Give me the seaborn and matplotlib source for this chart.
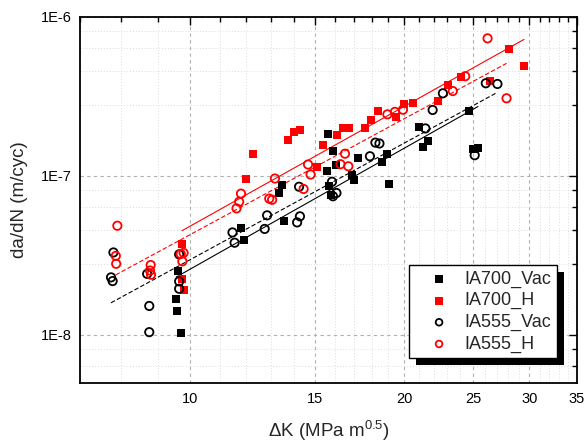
import numpy as np
import pandas as pd
import matplotlib
matplotlib.use("Agg")
import matplotlib.pyplot as plt
import matplotlib.ticker as mticker
from matplotlib.patches import Rectangle
import seaborn as sns

# crack growth rate vs stress intensity range
ia700_vac_dk = [9.60, 9.56, 9.58, 9.70, 11.79, 11.91, 13.45, 13.35, 13.55, 15.64, 15.87, 15.56, 16.04, 15.70,
                15.80, 16.87, 17.02, 17.24, 18.63, 18.89, 19.01, 21.00, 21.61, 21.28, 24.65, 24.97, 25.40]
ia700_vac_dadn = [2.52e-8, 1.67e-8, 1.42e-8, 1.03e-8, 4.68e-8, 3.96e-8, 8.82e-8, 7.81e-8, 5.22e-8, 1.83e-7,
                  1.43e-7, 1.08e-7, 1.18e-7, 8.61e-8, 7.56e-8, 1.01e-7, 9.49e-8, 1.29e-7, 1.22e-7, 1.38e-7,
                  8.93e-8, 2.03e-7, 1.67e-7, 1.51e-7, 2.58e-7, 1.47e-7, 1.50e-7]

ia700_h_dk = [9.74, 9.74, 9.79, 11.98, 12.24, 13.74, 14.02, 14.25, 15.07, 15.39, 16.07, 16.42, 16.73, 17.59,
              17.96, 18.40, 19.47, 19.98, 20.57, 22.28, 23.06, 24.04, 26.42, 28.05, 29.48]
ia700_h_dadn = [3.71e-8, 2.25e-8, 1.92e-8, 9.53e-8, 1.37e-7, 1.68e-7, 1.89e-7, 1.94e-7, 1.13e-7, 1.56e-7,
                1.81e-7, 1.99e-7, 1.99e-7, 2.01e-7, 2.25e-7, 2.56e-7, 2.36e-7, 2.85e-7, 2.88e-7, 2.98e-7,
                3.71e-7, 4.20e-7, 3.96e-7, 6.27e-7, 4.91e-7]

ia555_vac_dk = [7.80, 7.74, 7.78, 8.70, 8.76, 8.76, 9.65, 9.65, 9.65, 11.47, 11.55, 12.83, 12.73, 14.23,
                14.27, 14.14, 15.83, 16.06, 15.88, 17.90, 18.22, 18.46, 21.42, 21.93, 22.67, 25.13, 26.05, 27.05]
ia555_vac_dadn = [3.30e-8, 2.30e-8, 2.18e-8, 2.42e-8, 1.52e-8, 1.04e-8, 3.21e-8, 2.17e-8, 1.95e-8, 4.41e-8,
                  3.80e-8, 5.65e-8, 4.64e-8, 8.55e-8, 5.57e-8, 5.10e-8, 9.19e-8, 7.81e-8, 7.45e-8, 1.33e-7,
                  1.62e-7, 1.60e-7, 1.99e-7, 2.60e-7, 3.31e-7, 1.35e-7, 3.83e-7, 3.79e-7]

ia555_h_dk = [7.90, 7.86, 7.87, 8.80, 8.78, 8.81, 9.70, 9.79, 9.75, 11.62, 11.72, 11.79, 13.16, 12.92,
              13.04, 14.44, 14.65, 14.77, 16.51, 16.27, 16.69, 18.94, 19.41, 19.92, 23.41, 24.37, 26.20, 27.86]
ia555_h_dadn = [4.86e-8, 3.14e-8, 2.80e-8, 2.75e-8, 2.54e-8, 2.39e-8, 3.23e-8, 3.28e-8, 2.90e-8, 6.25e-8,
                6.88e-8, 7.74e-8, 9.63e-8, 7.20e-8, 7.08e-8, 8.28e-8, 1.18e-7, 1.02e-7, 1.38e-7, 1.185e-7,
                1.15e-7, 2.44e-7, 2.53e-7, 2.61e-7, 3.42e-7, 4.24e-7, 7.34e-7, 3.08e-7]

series = [
    # label, dk, dadn, colour, marker, filled, fit linestyle
    ("IA700_Vac", ia700_vac_dk, ia700_vac_dadn, "black", "s", True, "-"),
    ("IA700_H", ia700_h_dk, ia700_h_dadn, "#ff0000", "s", True, "-"),
    ("IA555_Vac", ia555_vac_dk, ia555_vac_dadn, "black", "o", False, (0, (4, 2))),
    ("IA555_H", ia555_h_dk, ia555_h_dadn, "#ff0000", "o", False, (0, (4, 2))),
]

sns.set_theme(style="white")
plt.rcParams['font.family'] = ['Liberation Sans', 'DejaVu Sans']
plt.rcParams['mathtext.fontset'] = 'custom'
plt.rcParams['mathtext.rm'] = 'Liberation Sans'
plt.rcParams['mathtext.it'] = 'Liberation Sans:italic'


def create_plot():
    fig = plt.figure(figsize=(5.84, 4.43), dpi=100)
    ax = fig.add_axes([80 / 584, 1 - 382.7 / 443, 497 / 584, 365.7 / 443])
    ax.set_xscale('log')
    ax.set_yscale('log')

    for label, dk, dadn, color, marker, filled, ls in series:
        df = pd.DataFrame({'dk': dk, 'dadn': dadn})
        if filled:
            sns.scatterplot(data=df, x='dk', y='dadn', ax=ax, marker=marker, s=40,
                            color=color, edgecolor=color, linewidth=0, label=label, zorder=3)
        else:
            sns.scatterplot(data=df, x='dk', y='dadn', ax=ax, marker=marker, s=36,
                            facecolor='none', edgecolor=color, linewidth=1.3, label=label, zorder=3)
        # power-law fit, da/dN = C dK^m
        m, b = np.polyfit(np.log10(df['dk']), np.log10(df['dadn']), 1)
        xs = np.geomspace(df['dk'].min(), df['dk'].max(), 40)
        sns.lineplot(x=xs, y=10 ** (b + m * np.log10(xs)), ax=ax, color=color,
                     linewidth=0.8, linestyle=ls, zorder=2, legend=False)

    ax.set_xlim(7, 35)
    ax.set_ylim(5e-9, 1e-6)

    ax.xaxis.set_major_locator(mticker.FixedLocator([10, 15, 20, 25, 30, 35]))
    ax.xaxis.set_major_formatter(mticker.FuncFormatter(lambda v, _: f"{v:g}"))
    ax.xaxis.set_minor_locator(mticker.FixedLocator([v for v in range(7, 36) if v % 5 != 0]))
    ax.xaxis.set_minor_formatter(mticker.NullFormatter())

    ax.yaxis.set_major_locator(mticker.FixedLocator([1e-8, 1e-7, 1e-6]))
    ax.yaxis.set_major_formatter(mticker.FuncFormatter(lambda v, _: f"1E{int(round(np.log10(v)))}"))
    # origin style minor ticks, linear steps of 1.8 inside each decade
    ax.yaxis.set_minor_locator(mticker.FixedLocator(
        [f * 10.0 ** k for k in range(-9, -5) for f in (2.8, 4.6, 6.4, 8.2)]))
    ax.yaxis.set_minor_formatter(mticker.NullFormatter())

    ax.tick_params(which='both', direction='in', top=True, right=True, width=1.0, colors='black')
    ax.tick_params(which='major', length=5.5, labelsize=10.5)
    ax.tick_params(axis='x', which='major', pad=7)
    ax.tick_params(axis='y', which='major', pad=6)
    ax.tick_params(which='minor', length=3.5)

    ax.set_axisbelow(True)
    ax.grid(which='major', color='#b0b0b0', linestyle=(0, (3, 3)), linewidth=0.8)
    ax.grid(which='minor', color='#dcdcdc', linestyle=(0, (1, 2)), linewidth=0.7)
    for sp in ax.spines.values():
        sp.set_color('black')
        sp.set_linewidth(1.3)

    ax.set_xlabel(r"ΔK (MPa m$^{\mathregular{0.5}}$)", fontsize=13.5, labelpad=9)
    ax.set_ylabel("da/dN (m/cyc)", fontsize=13.5, labelpad=9)

    leg = ax.legend(loc='lower right', bbox_to_anchor=(0.959, 0.0667), fancybox=False, frameon=True,
                    fontsize=13, markerscale=0.8, handlelength=2.7, handletextpad=0.05,
                    borderpad=0.3, labelspacing=0.25, borderaxespad=0, framealpha=1)
    frame = leg.get_frame()
    frame.set_facecolor('white')
    frame.set_edgecolor('black')
    frame.set_linewidth(1.0)
    leg.set_zorder(6)

    # solid black drop shadow behind the legend box
    fig.canvas.draw()
    bb = leg.get_window_extent().transformed(ax.transAxes.inverted())
    dx, dy = 7 / 497, 7 / 365.7
    ax.add_patch(Rectangle((bb.x0 + dx, bb.y0 - dy), bb.width, bb.height, transform=ax.transAxes,
                           facecolor='black', edgecolor='none', zorder=5.5, clip_on=False))
    return fig


def main():
    fig = create_plot()
    fig.savefig("out.png", dpi=100)


if __name__ == "__main__":
    main()
